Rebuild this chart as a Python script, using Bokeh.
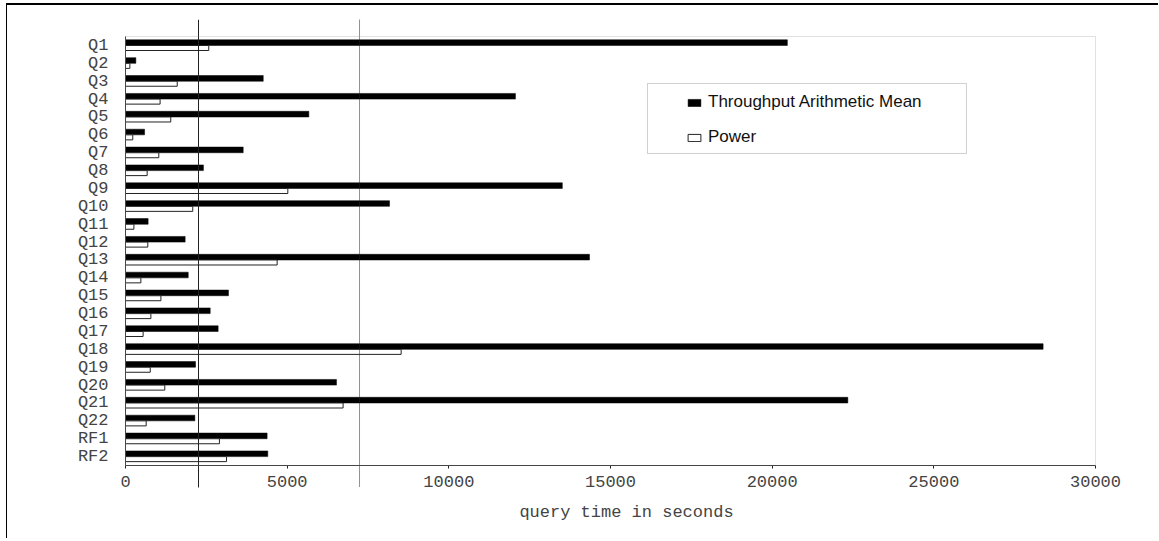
from bokeh.plotting import figure
from bokeh.models import (Range1d, FixedTicker, BoxAnnotation, Legend,
                          LegendItem, LinearAxis, ColumnDataSource)
from bokeh.embed import file_html
from bokeh.resources import INLINE

# ---------------- data ----------------
queries = ["Q1", "Q2", "Q3", "Q4", "Q5", "Q6", "Q7", "Q8", "Q9", "Q10", "Q11",
           "Q12", "Q13", "Q14", "Q15", "Q16", "Q17", "Q18", "Q19", "Q20", "Q21",
           "Q22", "RF1", "RF2"]
throughput_mean = [20470, 320, 4260, 12060, 5670, 590, 3640, 2410, 13510, 8165,
                   700, 1845, 14350, 1940, 3185, 2620, 2865, 28380, 2165, 6525,
                   22340, 2145, 4380, 4400]
power = [2575, 135, 1600, 1070, 1400, 225, 1030, 670, 5020, 2080, 260, 690,
         4690, 475, 1095, 785, 545, 8525, 765, 1215, 6730, 640, 2905, 3125]
power_line = 2258          # solid vertical line
throughput_line = 7238     # dotted vertical line
x_ticks = [0, 5000, 10000, 15000, 20000, 25000, 30000]
x_label = "query time in seconds"
legend_labels = ["Throughput Arithmetic Mean", "Power"]

# ---------------- layout ----------------
n = len(queries)
x_max = x_ticks[-1]
band_centers = [i + 0.5 for i in range(n)]
MONO = "Liberation Mono"
TXT = "#444444"
Y_TOP = -0.951          # frame top (lines start here)
Y_LINE_END = n + 1.231  # where the vertical lines stop
Y_BOTTOM = n + 3.636    # frame bottom (room for axis title)

src = ColumnDataSource(dict(
    q=queries,
    tm=throughput_mean,
    pw=power,
    yb=[i + 0.344 for i in range(n)],
    yw=[i + 0.643 for i in range(n)],
))

p = figure(width=1152, height=535, output_backend="svg", toolbar_location=None,
           x_range=Range1d(-402.1, 31391.8), y_range=Range1d(Y_BOTTOM, Y_TOP),
           x_axis_location=None, min_border_left=105, min_border_right=19,
           min_border_top=14, min_border_bottom=10)
p.outline_line_color = None
p.xgrid.visible = False
p.ygrid.visible = False
p.background_fill_color = "white"
p.border_fill_color = "white"
p.styles = {"margin-left": "6px", "margin-top": "3px",
            "border-left": "1px solid #000", "border-top": "2px solid #000"}

# plot-area frame (grey top/right edges)
p.add_layout(BoxAnnotation(left=0, right=x_max, top=0, bottom=n,
                           fill_alpha=0, line_color="#9a9a9a", line_width=1))

# bars
rb = p.hbar(y="yb", right="tm", left=0, height=0.318, source=src,
            fill_color="black", line_color="black", line_width=0.5)
rw = p.hbar(y="yw", right="pw", left=0, height=0.28, source=src,
            fill_color="white", line_color="#222222", line_width=1)

# left and bottom axis lines of the plot area
p.segment(x0=[0, 0], y0=[0, n], x1=[0, x_max], y1=[n, n],
          line_color="#222222", line_width=1)

# reference lines (extend a little above and below the plot area)
p.segment(x0=[power_line], y0=[Y_TOP], x1=[power_line], y1=[Y_LINE_END],
          line_color="#222222", line_width=1)
p.segment(x0=[throughput_line], y0=[Y_TOP], x1=[throughput_line],
          y1=[Y_LINE_END], line_color="#222222", line_width=1,
          line_dash="1 1")

# y axis (categories)
ya = p.yaxis[0]
ya.ticker = FixedTicker(ticks=band_centers)
ya.major_label_overrides = {c: q for c, q in zip(band_centers, queries)}
ya.axis_line_color = None
ya.major_tick_line_color = None
ya.minor_tick_line_color = None
ya.major_tick_out = 0
ya.major_tick_in = 0
ya.major_label_standoff = 4
ya.major_label_text_font = MONO
ya.major_label_text_font_size = "17px"
ya.major_label_text_color = TXT

# x axis, fixed at the bottom of the category area
xa = LinearAxis(fixed_location=n, ticker=FixedTicker(ticks=x_ticks),
                axis_label=x_label)
xa.axis_line_color = None
xa.major_tick_line_color = "#222222"
xa.minor_tick_line_color = None
xa.major_tick_out = 3
xa.major_tick_in = 0
xa.major_label_standoff = 7
xa.major_label_text_font = MONO
xa.major_label_text_font_size = "17px"
xa.major_label_text_color = TXT
xa.axis_label_standoff = 13
xa.axis_label_text_font = MONO
xa.axis_label_text_font_size = "17px"
xa.axis_label_text_font_style = "normal"
xa.axis_label_text_color = TXT
p.add_layout(xa, "below")

# legend box and legend
p.add_layout(BoxAnnotation(left=16144, right=26010, top=2.629, bottom=6.545,
                           fill_color="white", fill_alpha=1,
                           line_color="#666666", line_width=1))
legend = Legend(items=[LegendItem(label=legend_labels[0], renderers=[rb]),
                       LegendItem(label=legend_labels[1], renderers=[rw])],
                location=(574, 383), glyph_width=16, glyph_height=9,
                label_height=17, spacing=15, padding=10, margin=0,
                label_standoff=6, border_line_color=None,
                background_fill_alpha=0, label_text_font="Liberation Sans",
                label_text_font_size="17px", label_text_color="#111111")
p.add_layout(legend)

open("out.html", "w").write(file_html(p, INLINE))
